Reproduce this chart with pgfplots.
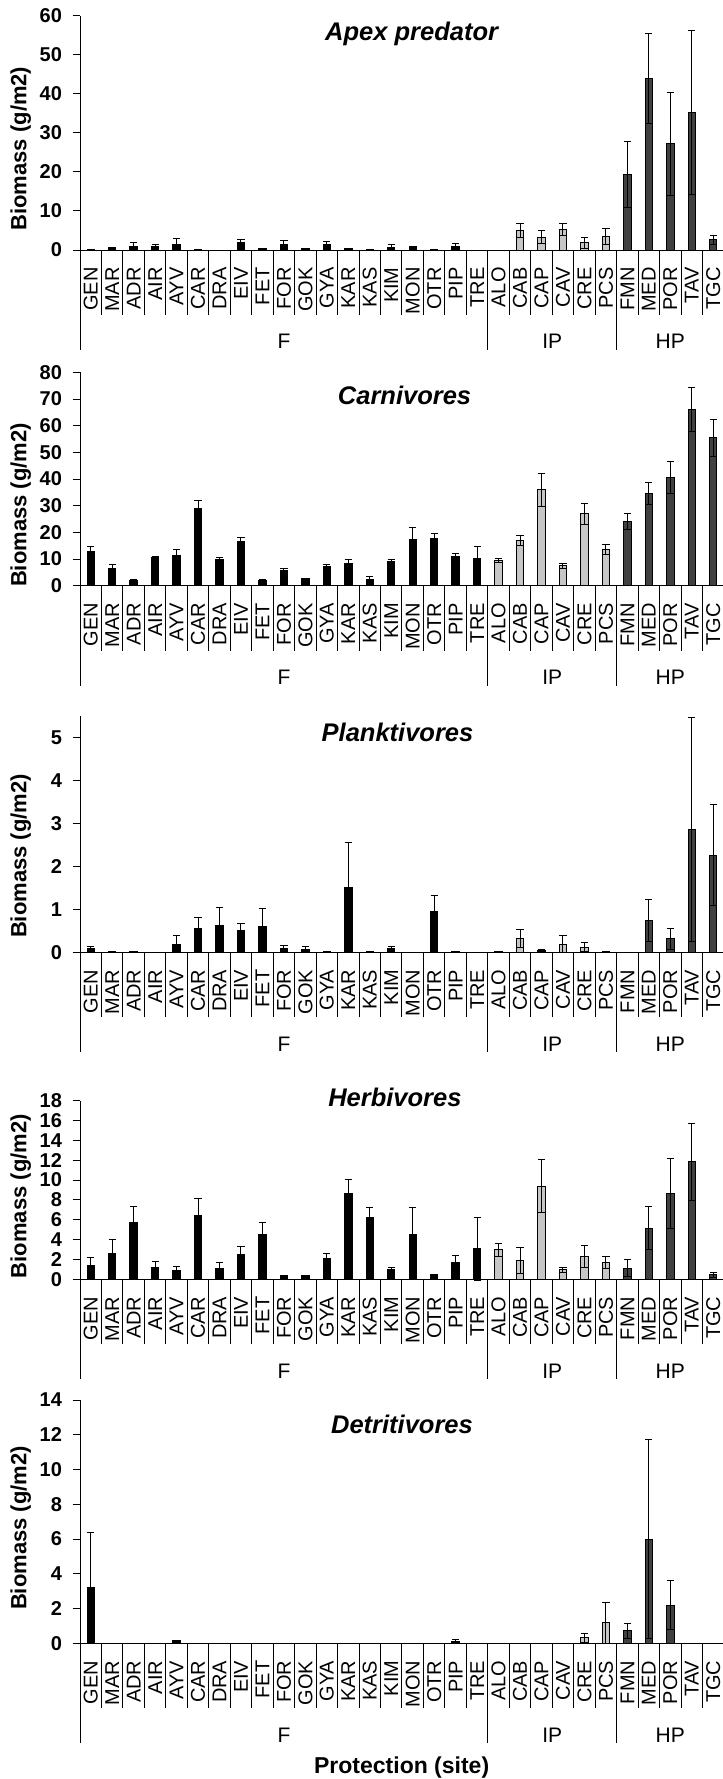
\documentclass[border=0pt]{standalone}
\usepackage{pgfplots}
\pgfplotsset{compat=1.18}
\usepackage{pgfplotstable}
\usepackage{fontspec}
\setmainfont{Liberation Sans}

% x: 0..29 = GEN MAR ADR AIR AYV CAR DRA EIV FET FOR GOK GYA KAR KAS KIM MON OTR PIP TRE | ALO CAB CAP CAV CRE PCS | FMN MED POR TAV TGC
\pgfplotstableread{
x y e
0 0.1 0
1 0.6 0.1
2 1.0 0.9
3 1.0 0.5
4 1.5 1.4
5 0.1 0
6 0 0
7 1.8 0.9
8 0.4 0.1
9 1.5 0.9
10 0.4 0
11 1.5 0.6
12 0.3 0
13 0.1 0
14 0.7 0.6
15 0.8 0.2
16 0.1 0
17 1.0 0.6
18 0 0
19 0 0
20 5.1 1.8
21 3.3 1.7
22 5.3 1.6
23 1.8 1.4
24 3.4 2.1
25 19.3 8.5
26 44.0 11.5
27 27.2 13.2
28 35.1 21.0
29 2.6 1.1
}\apex

\pgfplotstableread{
x y e
0 12.75 2.0
1 6.5 1.4
2 2.0 0.2
3 10.4 0.5
4 11.4 2.2
5 29.0 3.0
6 9.9 0.6
7 16.75 1.15
8 2.0 0.25
9 5.6 0.8
10 2.6 0.2
11 7.1 1.0
12 8.25 1.65
13 2.5 1.0
14 9.1 0.8
15 17.5 4.5
16 17.75 2.0
17 11.0 1.0
18 10.25 4.35
19 9.4 0.7
20 17.0 2.0
21 35.9 6.1
22 7.5 1.0
23 27.0 3.9
24 13.6 1.9
25 24.0 3.1
26 34.6 4.0
27 40.5 6.1
28 66.1 8.15
29 55.5 6.9
}\carn

\pgfplotstableread{
x y e
0 0.09 0.04
1 0.01 0
2 0.01 0
3 0 0
4 0.19 0.19
5 0.55 0.26
6 0.62 0.42
7 0.51 0.15
8 0.60 0.42
9 0.09 0.07
10 0.07 0.06
11 0.01 0
12 1.50 1.05
13 0.01 0
14 0.09 0.04
15 0 0
16 0.95 0.38
17 0.01 0
18 0 0
19 0.01 0
20 0.33 0.21
21 0.05 0.02
22 0.19 0.19
23 0.12 0.10
24 0.01 0
25 0 0
26 0.74 0.48
27 0.31 0.24
28 2.86 2.60
29 2.26 1.17
}\plank

\pgfplotstableread{
x y e
0 1.44 0.74
1 2.62 1.38
2 5.71 1.64
3 1.24 0.54
4 0.87 0.41
5 6.45 1.68
6 1.14 0.57
7 2.48 0.81
8 4.47 1.21
9 0.37 0.03
10 0.37 0.05
11 2.08 0.57
12 8.66 1.44
13 6.21 1.01
14 0.97 0.27
15 4.53 2.66
16 0.44 0.05
17 1.68 0.77
18 3.06 3.20
19 2.96 0.67
20 1.88 1.28
21 9.40 2.69
22 0.94 0.27
23 2.28 1.08
24 1.65 0.60
25 1.11 0.84
26 5.14 2.18
27 8.66 3.50
28 11.85 3.87
29 0.44 0.27
}\herb

\pgfplotstableread{
x y e
0 3.2 3.17
1 0 0
2 0 0
3 0 0
4 0.15 0.03
5 0 0
6 0 0
7 0 0
8 0 0
9 0 0
10 0 0
11 0 0
12 0 0
13 0 0
14 0 0
15 0 0
16 0 0
17 0.1 0.13
18 0 0
19 0 0
20 0 0
21 0 0
22 0 0
23 0.31 0.27
24 1.17 1.19
25 0.71 0.44
26 6.0 5.74
27 2.19 1.40
28 0 0
29 0 0
}\detr

\definecolor{ipgray}{HTML}{C6C6C6}
\definecolor{hpgray}{HTML}{404040}

\pgfplotsset{
  panel/.style={
    scale only axis, width=322pt, anchor=south west, clip=false,
    xmin=-0.5, xmax=29.5, ymin=0,
    axis x line*=bottom, axis y line*=left,
    axis line style={line width=0.5pt, black},
    xtick={0,...,29},
    xticklabels={GEN,MAR,ADR,AIR,AYV,CAR,DRA,EIV,FET,FOR,GOK,GYA,KAR,KAS,KIM,MON,OTR,PIP,TRE,ALO,CAB,CAP,CAV,CRE,PCS,FMN,MED,POR,TAV,TGC},
    major x tick style={draw opacity=0},
    minor xtick={-0.5,0.5,...,29.5},
    minor tick length=32.5pt,
    major tick length=3.5pt,
    tick align=outside,
    tick style={line width=0.5pt, black},
    xticklabel style={rotate=90, anchor=east, inner sep=0pt, xshift=-5pt, font=\fontsize{10}{12}\selectfont},
    yticklabel style={font=\bfseries\fontsize{10}{12}\selectfont, xshift=-2pt},
    /pgf/number format/assume math mode=true,
    ylabel={Biomass (g/m2)},
    title style={font=\bfseries\itshape\fontsize{12.75}{14}\selectfont, anchor=base, yshift=-6pt},
    ylabel style={font=\bfseries\fontsize{11}{13}\selectfont, anchor=center},
  },
  errs/.style={error bars/.cd, y dir=both, y explicit,
    error bar style={line width=0.5pt, black},
    error mark options={rotate=90, mark size=1.8pt, line width=0.5pt, black}},
  fbar/.style={ybar, bar width=3.7pt, bar shift=0pt, fill=black, draw=black, line width=0.5pt, restrict x to domain=-1:18.6, errs},
  ipbar/.style={ybar, bar width=3.7pt, bar shift=0pt, fill=ipgray, draw=black, line width=0.5pt, restrict x to domain=18.6:24.6, errs},
  hpbar/.style={ybar, bar width=3.7pt, bar shift=0pt, fill=hpgray, draw=black, line width=0.5pt, restrict x to domain=24.6:30, errs},
}

\newcommand\groupdeco{%
  \draw[line width=0.5pt] (axis cs:-0.5,0) -- ++(0pt,-50pt);
  \draw[line width=0.5pt] (axis cs:18.5,0) -- ++(0pt,-50pt);
  \draw[line width=0.5pt] (axis cs:24.5,0) -- ++(0pt,-50pt);
  \draw[line width=0.5pt] (axis cs:29.5,0) -- ++(0pt,-50pt);
  \node[font=\fontsize{10.5}{12}\selectfont, yshift=-45.8pt] at (axis cs:9,0) {F};
  \node[font=\fontsize{10.5}{12}\selectfont, yshift=-45.8pt] at (axis cs:21.5,0) {IP};
  \node[font=\fontsize{10.5}{12}\selectfont, yshift=-45.8pt] at (axis cs:27,0) {HP};
}

\begin{document}
\begin{tikzpicture}
\useasboundingbox (0pt,0pt) rectangle (361.5pt,-889.5pt);

% Panel 1
\begin{axis}[panel, at={(40pt,-125pt)}, height=117.15pt, ymax=60, ytick={0,10,...,60},
  title={Apex predator}, title style={at={(axis description cs:0.515,0.893)}},
  ylabel style={at={(axis description cs:-0.0921,0.433)}}]
\addplot[fbar] table[x=x,y=y,y error=e]{\apex};
\addplot[ipbar] table[x=x,y=y,y error=e]{\apex};
\addplot[hpbar] table[x=x,y=y,y error=e]{\apex};
\groupdeco
\end{axis}

% Panel 2
\begin{axis}[panel, at={(40pt,-292.85pt)}, height=106.7pt, ymax=80, ytick={0,10,...,80},
  title={Carnivores}, title style={at={(axis description cs:0.504,0.847)}},
  ylabel style={at={(axis description cs:-0.0921,0.378)}}]
\addplot[fbar] table[x=x,y=y,y error=e]{\carn};
\addplot[ipbar] table[x=x,y=y,y error=e]{\carn};
\addplot[hpbar] table[x=x,y=y,y error=e]{\carn};
\groupdeco
\end{axis}

% Panel 3
\begin{axis}[panel, at={(40pt,-476.15pt)}, height=118.25pt, ymax=5.5, ytick={0,1,...,5},
  title={Planktivores}, title style={at={(axis description cs:0.493,0.890)}},
  ylabel style={at={(axis description cs:-0.0921,0.407)}}]
\addplot[fbar] table[x=x,y=y,y error=e]{\plank};
\addplot[ipbar] table[x=x,y=y,y error=e]{\plank};
\addplot[hpbar] table[x=x,y=y,y error=e]{\plank};
\groupdeco
\end{axis}

% Panel 4
\begin{axis}[panel, at={(40pt,-639.65pt)}, height=89.3pt, ymax=18, ytick={0,2,...,18},
  title={Herbivores}, title style={at={(axis description cs:0.489,0.966)}},
  ylabel style={at={(axis description cs:-0.0921,0.466)}}]
\addplot[fbar] table[x=x,y=y,y error=e]{\herb};
\addplot[ipbar] table[x=x,y=y,y error=e]{\herb};
\addplot[hpbar] table[x=x,y=y,y error=e]{\herb};
\groupdeco
\end{axis}

% Panel 5
\begin{axis}[panel, at={(40pt,-821.65pt)}, height=121.65pt, ymax=14, ytick={0,2,...,14},
  title={Detritivores}, title style={at={(axis description cs:0.5,0.864)}},
  ylabel style={at={(axis description cs:-0.0921,0.474)}},
  xlabel={Protection (site)},
  xlabel style={font=\bfseries\fontsize{11.5}{13}\selectfont, at={(axis description cs:0.4995,0)}, anchor=base, yshift=-65pt}]
\addplot[fbar] table[x=x,y=y,y error=e]{\detr};
\addplot[ipbar] table[x=x,y=y,y error=e]{\detr};
\addplot[hpbar] table[x=x,y=y,y error=e]{\detr};
\groupdeco
\end{axis}
\end{tikzpicture}
\end{document}
